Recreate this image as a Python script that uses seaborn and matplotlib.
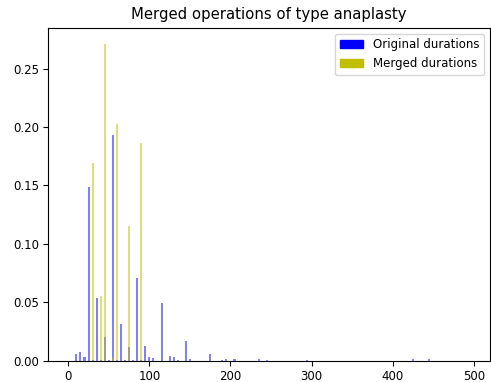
import matplotlib
matplotlib.use("Agg")
import matplotlib.pyplot as plt
import seaborn as sns
import pandas as pd
from matplotlib.patches import Patch

# Original durations (minutes) and their normalized frequencies
orig_x = [10, 15, 20, 25, 30, 35, 40, 45, 50, 55, 60, 65, 70, 75, 80, 85, 90, 95,
          100, 105, 115, 125, 130, 135, 145, 150, 175, 190, 195, 205, 235, 245,
          295, 425, 445]
orig_y = [0.006, 0.0077, 0.0034, 0.149, 0.001, 0.0536, 0.001, 0.020, 0.001, 0.193,
          0.001, 0.031, 0.001, 0.0113, 0.001, 0.071, 0.001, 0.0125,
          0.0035, 0.0027, 0.0497, 0.0043, 0.0035, 0.001, 0.0165, 0.0012, 0.006,
          0.001, 0.0017, 0.0015, 0.0017, 0.001, 0.001, 0.0013, 0.0013]

# Merged durations
merged_x = [30, 40, 45, 55, 60, 75, 90]
merged_y = [0.169, 0.055, 0.271, 0.003, 0.203, 0.1157, 0.186]

title = "Merged operations of type anaplasty"
labels = ["Original durations", "Merged durations"]
xticks = [0, 100, 200, 300, 400, 500]
yticks = [0.0, 0.05, 0.10, 0.15, 0.20, 0.25]
ytick_labels = ["0.00", "0.05", "0.10", "0.15", "0.20", "0.25"]

df_o = pd.DataFrame({"x": orig_x, "y": orig_y})
df_m = pd.DataFrame({"x": merged_x, "y": merged_y})

fig = plt.figure(figsize=(4.91, 3.82), dpi=100)
ax = fig.add_axes([0.0978, 0.0558, 0.900, 0.8717])

sns.barplot(data=df_o, x="x", y="y", native_scale=True, width=0.5,
            color="b", alpha=0.5, linewidth=0, saturation=1, ax=ax, errorbar=None)
sns.barplot(data=df_m, x="x", y="y", native_scale=True, width=0.5,
            color="y", alpha=0.5, linewidth=0, saturation=1, ax=ax, errorbar=None)

ax.set_xlim(-25, 520)
ax.set_ylim(0, 0.285)
ax.set_xticks(xticks)
ax.set_xticklabels([str(t) for t in xticks], fontsize=8.5)
ax.set_yticks(yticks)
ax.set_yticklabels(ytick_labels, fontsize=8.5)
ax.tick_params(length=3.5, pad=3)
ax.set_xlabel("")
ax.set_ylabel("")
ax.set_title(title, fontsize=10.7, pad=6)
for s in ax.spines.values():
    s.set_linewidth(0.8)
ax.legend(handles=[Patch(color="b"), Patch(color="y")], labels=labels,
          loc="upper right", fontsize=8.5)

fig.savefig("out.png", dpi=100)
